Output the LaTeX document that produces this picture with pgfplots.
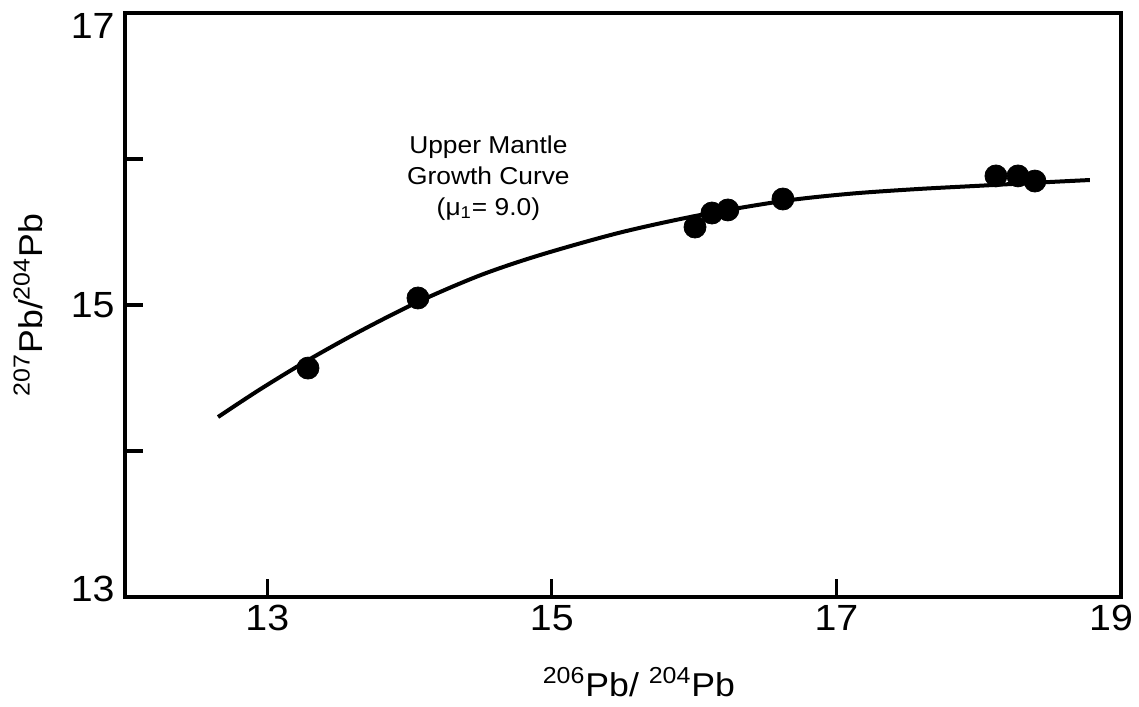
\documentclass[border=0pt]{standalone}
\usepackage{fontspec}
\setmainfont{Liberation Sans}[FakeStretch=1.08]
\usepackage{pgfplots}
\pgfplotsset{compat=1.18}

\begin{document}
\begin{tikzpicture}
\begin{axis}[
  name=ax,
  scale only axis,
  width=498pt, height=292pt,
  xmin=12, xmax=19, ymin=13, ymax=17,
  xtick={13,15,17,19},
  xticklabels={13,15,17,\hspace*{-10pt}19},
  ytick={13,14,15,16,17},
  yticklabels={\raisebox{-2.0pt}[0pt][0pt]{13},{},\raisebox{-6.5pt}[0pt][0pt]{15},{},\raisebox{-13.0pt}[0pt][0pt]{17}},
  /pgf/number format/assume math mode=true,
  tick pos=left,
  tick align=inside,
  major tick length=9pt,
  axis line style={line width=1.6pt},
  every tick/.style={line width=1.6pt, black},
  ticklabel style={font=\fontsize{18.2}{21.8}\selectfont},
  xticklabel style={inner sep=0pt, yshift=-4pt},
  yticklabel style={inner sep=0pt, xshift=-5pt},
  xlabel={\textsuperscript{206}Pb/ \textsuperscript{204}Pb},
  ylabel={\textsuperscript{207}Pb/\textsuperscript{204}Pb},
  xlabel style={at={(axis description cs:0.516,-0.1455)}, anchor=center, font=\fontsize{16.5}{20}\selectfont},
  ylabel style={at={(axis description cs:-0.0974,0.5)}, anchor=center, font=\fontsize{16.5}{20}\selectfont},
  clip=false,
]
% growth curve
\addplot[black, line width=2pt, smooth, tension=0.5] coordinates {
  (12.654,14.233) (12.949,14.422) (13.286,14.622) (13.651,14.820)
  (14.059,15.021) (14.495,15.203) (14.916,15.342) (15.479,15.496)
  (16.041,15.616) (16.624,15.712) (17.095,15.762) (17.566,15.794)
  (18.029,15.818) (18.430,15.839) (18.781,15.856)
};
% data points
\addplot[only marks, mark=*, mark size=5.5pt, black] coordinates {
  (13.286,14.568) (14.059,15.048) (16.006,15.534) (16.125,15.630)
  (16.237,15.651) (16.624,15.726) (18.121,15.884) (18.276,15.884)
  (18.395,15.849)
};
\node[align=center, font=\fontsize{12.2}{15.5}\selectfont] at (axis cs:14.554,15.87)
  {Upper Mantle\\Growth Curve\\(μ\textsubscript{1}= 9.0)};
\end{axis}
\pgfresetboundingbox
\path[use as bounding box] ([xshift=-62.5pt,yshift=-54.5pt]ax.south west) rectangle ([xshift=9pt,yshift=6.5pt]ax.north east);
\end{tikzpicture}
\end{document}
